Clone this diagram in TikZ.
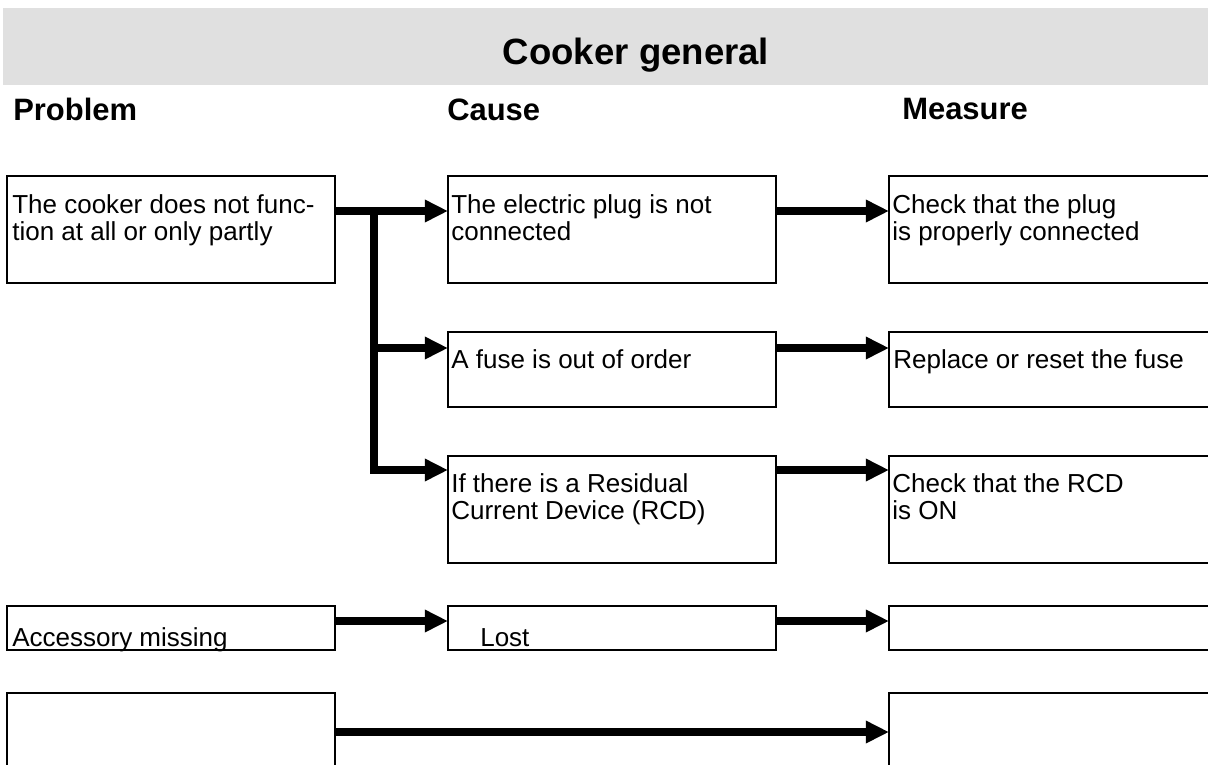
\documentclass[tikz,border=0pt]{standalone}
\usepackage{fontspec}
\setmainfont{Liberation Sans}
\usetikzlibrary{arrows.meta,positioning}
\definecolor{bandgrey}{RGB}{224,224,224}

\begin{document}
\begin{tikzpicture}[x=0.025cm,y=-0.025cm,
    box/.style={draw,line width=1.3pt,anchor=north west,inner sep=0pt,outer sep=0pt,minimum width=8.2cm},
    txt/.style={anchor=base west,inner sep=0pt,align=left,font=\fontsize{18.5}{19.2}\selectfont},
    head/.style={anchor=base west,inner sep=0pt,font=\fontsize{22}{26}\selectfont\bfseries},
    flow/.style={line width=5pt,-{Triangle[length=5.8mm,width=5.3mm]}}]
\useasboundingbox (0,0) rectangle (1208,764);
\clip (0,0) rectangle (1208,764);

% title band
\fill[bandgrey] (3,8) rectangle (1208,85);
\node[anchor=base,inner sep=0pt,font=\fontsize{26}{30}\selectfont\bfseries] (title) at (636,64) {Cooker general};

\node[head] (hp) at (13,120) {Problem};
\node[head] (hc) at (447,120) {Cause};
\node[head] (hm) at (902,119) {Measure};

% boxes
\node[box,minimum height=2.675cm] (p1) at (7,176) {};
\node[box,minimum height=2.675cm] (c1) at (448,176) {};
\node[box,minimum height=2.675cm] (m1) at (889,176) {};
\node[box,minimum height=1.875cm] (c2) at (448,332) {};
\node[box,minimum height=1.875cm] (m2) at (889,332) {};
\node[box,minimum height=2.675cm] (c3) at (448,456) {};
\node[box,minimum height=2.675cm] (m3) at (889,456) {};
\node[box,minimum height=1.1cm] (p4) at (7,606) {};
\node[box,minimum height=1.1cm] (c4) at (448,606) {};
\node[box,minimum height=1.1cm] (m4) at (889,606) {};
\node[box,minimum height=2cm] (p5) at (7,693) {};
\node[box,minimum height=2cm] (m5) at (889,693) {};

% texts (base = last line)
\node[txt] (tp1) at ([shift={(5,64)}]p1.north west) {The cooker does not func-\\tion at all or only partly};
\node[txt] (tc1) at ([shift={(3,64)}]c1.north west) {The electric plug is not\\connected};
\node[txt] (tm1) at ([shift={(3,64)}]m1.north west) {Check that the plug\\is properly connected};
\node[txt] (tc2) at ([shift={(3,36)}]c2.north west) {A fuse is out of order};
\node[txt] (tm2) at ([shift={(4,36)}]m2.north west) {Replace or reset the fuse};
\node[txt] (tc3) at ([shift={(3,63)}]c3.north west) {If there is a Residual\\Current Device (RCD)};
\node[txt] (tm3) at ([shift={(3,63)}]m3.north west) {Check that the RCD\\is ON};
\node[txt] (tp4) at ([shift={(5,40)}]p4.north west) {Accessory missing};
\node[txt] (tc4) at ([shift={(32,40)}]c4.north west) {Lost};

% arrows
\coordinate (br) at (374,0);
\coordinate (r1) at (0,211);
\coordinate (r2) at (0,348);
\coordinate (r3) at (0,470);
\coordinate (r4) at (0,621);
\coordinate (r5) at (0,732);

\draw[flow] (p1.east |- r1) -- (c1.west |- r1);
\draw[flow] (br |- r1) -- (br |- r3) -- (c3.west |- r3);
\draw[flow] (br |- r2) -- (c2.west |- r2);
\draw[flow] (c1.east |- r1) -- (m1.west |- r1);
\draw[flow] (c2.east |- r2) -- (m2.west |- r2);
\draw[flow] (c3.east |- r3) -- (m3.west |- r3);
\draw[flow] (p4.east |- r4) -- (c4.west |- r4);
\draw[flow] (c4.east |- r4) -- (m4.west |- r4);
\draw[flow] (p5.east |- r5) -- (m5.west |- r5);
\end{tikzpicture}
\end{document}
